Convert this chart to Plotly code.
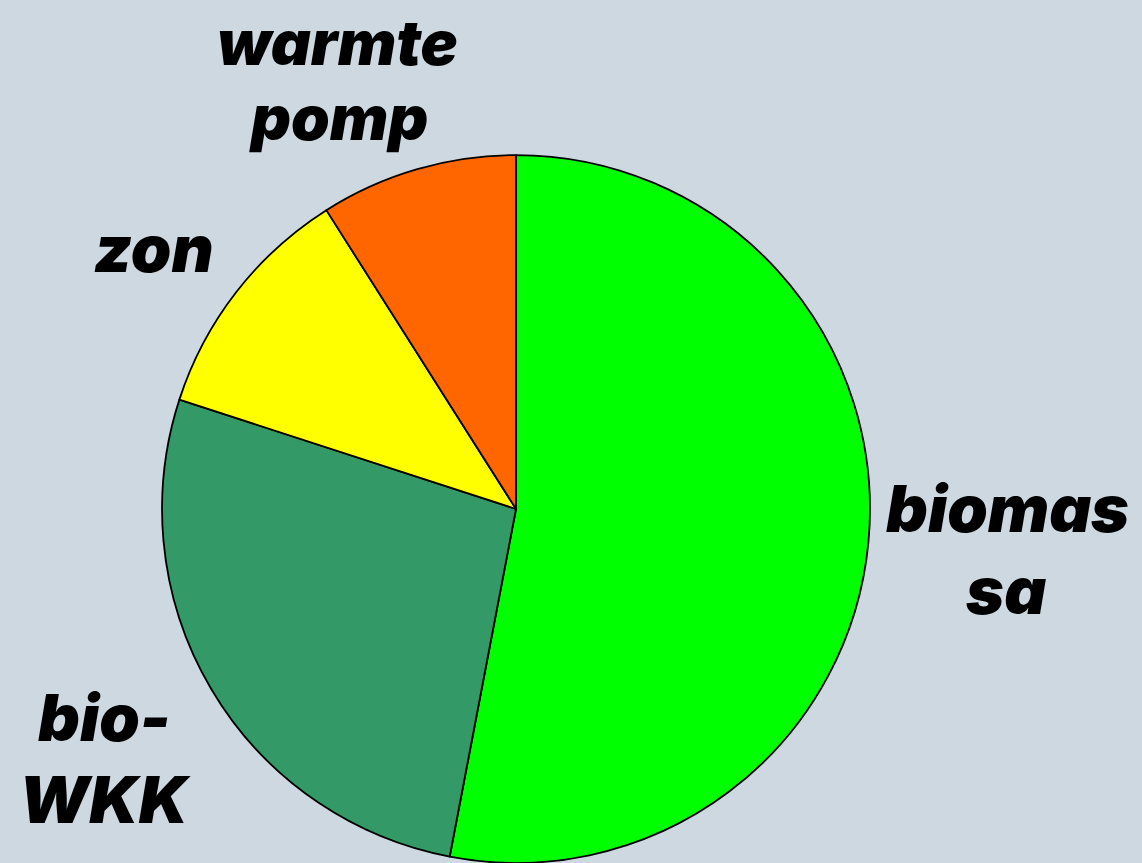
import plotly.graph_objects as go

labels = ["biomassa", "bio-WKK", "zon", "warmte pomp"]
values = [53, 27, 11, 9]
colors = ["#00FF00", "#339966", "#FFFF00", "#FF6600"]

W, H = 1142, 863
# outside label lines: (text, x centre px, y centre px, font size)
label_lines = [
    ("warmte", 337, 42, 62), ("pomp", 338, 117, 62),
    ("zon", 154, 249, 65),
    ("biomas", 1007, 508, 65), ("sa", 1006, 590, 65),
    ("bio-", 104, 717, 65), ("WKK", 105, 799, 65),
]

fig = go.Figure(go.Pie(
    labels=labels, values=values, sort=False, direction="clockwise", rotation=0,
    marker=dict(colors=colors, line=dict(color="black", width=1.8)),
    textinfo="none", hoverinfo="label+percent",
    domain=dict(x=[0.1419, 0.7618], y=[0.0, 0.8204]),
))

for t, xp, yp, fs in label_lines:
    fig.add_annotation(text=t, x=xp / W, y=1 - yp / H, xref="paper", yref="paper",
                       xanchor="center", yanchor="middle", showarrow=False,
                       borderpad=0,
                       font=dict(family="Inter", size=fs, color="black",
                                 weight=900, style="italic"))

fig.update_layout(width=W, height=H, margin=dict(l=0, r=0, t=0, b=0),
                  paper_bgcolor="#CDD8E0", plot_bgcolor="#CDD8E0", showlegend=False)
fig.write_html("out.html", config={"displayModeBar": False},
               post_script="document.body.style.margin='0';")
